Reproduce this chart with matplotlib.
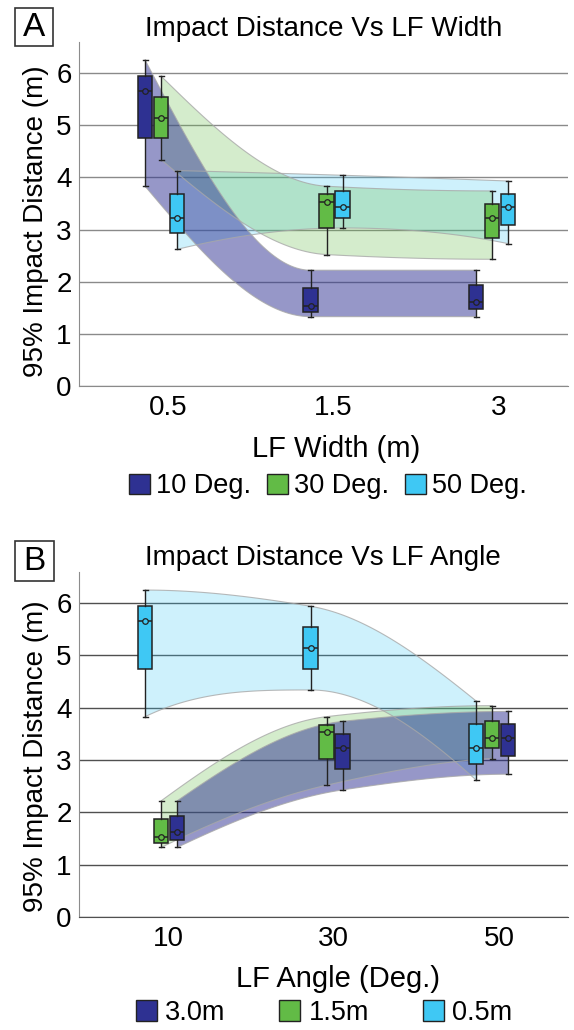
import numpy as np
import matplotlib.pyplot as plt
from matplotlib.patches import Patch, Rectangle

plt.rcParams['font.family'] = ['Liberation Sans', 'DejaVu Sans']

# ------------------------------------------------------------
# data: 95% impact distance (m), rows = LF width, cols = LF angle
# ------------------------------------------------------------
width_labels = ['0.5', '1.5', '3']
angle_labels = ['10', '30', '50']
width_series = ['0.5m', '1.5m', '3.0m']
angle_series = ['10 Deg.', '30 Deg.', '50 Deg.']

whis_hi = np.array([[6.25, 5.94, 4.13],
                    [2.22, 3.83, 4.04],
                    [2.22, 3.74, 3.93]])
box_hi = np.array([[5.94, 5.54, 3.69],
                   [1.87, 3.68, 3.74],
                   [1.93, 3.49, 3.69]])
median = np.array([[5.65, 5.14, 3.23],
                   [1.53, 3.53, 3.43],
                   [1.62, 3.23, 3.43]])
box_lo = np.array([[4.75, 4.75, 2.93],
                   [1.42, 3.03, 3.23],
                   [1.47, 2.83, 3.08]])
whis_lo = np.array([[3.83, 4.34, 2.62],
                    [1.33, 2.52, 3.03],
                    [1.33, 2.43, 2.73]])

DARK = '#2E3192'
GREEN = '#62BB46'
CYAN = '#3FC8F4'
EDGE = '#222222'

OFFSET = 0.0967      # spacing between boxes of one group
SHIFT = -0.042       # groups sit a little left of the tick
BW = 0.088


def smooth(xs, ys, n=60):
    # monotone cubic (pchip-style) through the points
    xs = np.asarray(xs, float)
    ys = np.asarray(ys, float)
    h = np.diff(xs)
    d = np.diff(ys) / h
    m = np.zeros_like(ys)
    for k in range(1, len(ys) - 1):
        if d[k - 1] * d[k] > 0:
            w1 = 2 * h[k] + h[k - 1]
            w2 = h[k] + 2 * h[k - 1]
            m[k] = (w1 + w2) / (w1 / d[k - 1] + w2 / d[k])

    def end(h0, h1, d0, d1):
        e = ((2 * h0 + h1) * d0 - h0 * d1) / (h0 + h1)
        if np.sign(e) != np.sign(d0):
            e = 0.0
        elif np.sign(d0) != np.sign(d1) and abs(e) > 3 * abs(d0):
            e = 3 * d0
        return e

    m[0] = end(h[0], h[1], d[0], d[1])
    m[-1] = end(h[-1], h[-2], d[-1], d[-2])

    t = np.linspace(0, 1, n)
    px, py = [], []
    for k in range(len(h)):
        h00 = 2 * t ** 3 - 3 * t ** 2 + 1
        h10 = t ** 3 - 2 * t ** 2 + t
        h01 = -2 * t ** 3 + 3 * t ** 2
        h11 = t ** 3 - t ** 2
        px.append(xs[k] + t * h[k])
        py.append(h00 * ys[k] + h10 * h[k] * m[k] + h01 * ys[k + 1] + h11 * h[k] * m[k + 1])
    return np.column_stack([np.concatenate(px), np.concatenate(py)])


def draw_panel(ax, series, grid_color):
    # series: list of (color, alpha, offset, stats getter over groups)
    for color, alpha, off, get in series:
        xs = np.arange(3) + off + SHIFT
        hi = np.array([get(g)['whishi'] for g in range(3)])
        lo = np.array([get(g)['whislo'] for g in range(3)])
        top = smooth(xs, hi)
        bot = smooth(xs, lo)[::-1]
        poly = np.vstack([top, bot])
        ax.fill(poly[:, 0], poly[:, 1], facecolor=color, alpha=alpha,
                edgecolor='none', zorder=1)
        ax.plot(top[:, 0], top[:, 1], color='#a8a8a8', lw=0.8, alpha=0.8, zorder=1.1)
        ax.plot(bot[:, 0], bot[:, 1], color='#a8a8a8', lw=0.8, alpha=0.8, zorder=1.1)

    for color, alpha, off, get in series:
        for g in range(3):
            ax.bxp([get(g)], positions=[g + off + SHIFT], widths=BW,
                   patch_artist=True, showmeans=True, showfliers=False,
                   capwidths=0.03, manage_ticks=False,
                   boxprops=dict(facecolor=color, edgecolor=EDGE, linewidth=1.1),
                   medianprops=dict(color=EDGE, linewidth=1.1),
                   whiskerprops=dict(color=EDGE, linewidth=1.0),
                   capprops=dict(color=EDGE, linewidth=1.0),
                   meanprops=dict(marker='o', markersize=4, markerfacecolor=color,
                                  markeredgecolor=EDGE, markeredgewidth=0.9),
                   zorder=3)

    ax.set_xlim(-0.541, 2.417)
    ax.set_ylim(0, 6.6)
    ax.set_yticks(range(7))
    ax.set_axisbelow(True)
    ax.yaxis.grid(True, color=grid_color, lw=1.0)
    for s in ['top', 'right']:
        ax.spines[s].set_visible(False)
    ax.spines['left'].set_color('#8c8c8c')
    ax.spines['bottom'].set_color(grid_color)
    ax.tick_params(axis='both', length=0, labelsize=20)
    ax.tick_params(axis='x', pad=6.5)
    ax.tick_params(axis='y', pad=5)


def stats(i, j):
    return dict(whislo=whis_lo[i, j], q1=box_lo[i, j], med=median[i, j],
                q3=box_hi[i, j], whishi=whis_hi[i, j], mean=median[i, j])


fig = plt.figure(figsize=(5.74, 10.30), dpi=100)

# ------------------------------------------------------------
# A: grouped by LF width, one series per angle
# ------------------------------------------------------------
axA = fig.add_axes([0.1368, 0.6252, 0.8528, 0.3343])
angle_colors = [DARK, GREEN, CYAN]
angle_alpha = [0.5, 0.27, 0.25]
seriesA = []
for j in [2, 1, 0]:
    seriesA.append((angle_colors[j], angle_alpha[j], (j - 1) * OFFSET,
                    lambda g, j=j: stats(g, j)))
draw_panel(axA, seriesA, '#8a8a8a')
axA.set_xticks(range(3), width_labels)
axA.set_title('Impact Distance Vs LF Width', fontsize=20, pad=1)
axA.set_xlabel('LF Width (m)', fontsize=21)
axA.xaxis.set_label_coords(0.527, -0.142)
axA.set_ylabel('95% Impact Distance (m)', fontsize=20)
axA.yaxis.set_label_coords(-0.060, 0.479)

fig.legend(handles=[Patch(facecolor=c, edgecolor=EDGE, lw=1, label=l)
                    for c, l in zip(angle_colors, angle_series)],
           loc='center', bbox_to_anchor=(0.571, 0.528), ncol=3, frameon=False,
           fontsize=19.5, handlelength=0.78, handleheight=0.78,
           handletextpad=0.2, columnspacing=0.6, borderpad=0)

# ------------------------------------------------------------
# B: grouped by LF angle, one series per width
# ------------------------------------------------------------
axB = fig.add_axes([0.1368, 0.1097, 0.8528, 0.3352])
width_colors = [CYAN, GREEN, DARK]
width_alpha = [0.25, 0.27, 0.5]
seriesB = []
for i in [0, 1, 2]:
    seriesB.append((width_colors[i], width_alpha[i], (i - 1) * OFFSET,
                    lambda g, i=i: stats(i, g)))
draw_panel(axB, seriesB, '#505050')
axB.set_xticks(range(3), angle_labels)
axB.set_title('Impact Distance Vs LF Angle', fontsize=20, pad=4.8)
axB.set_xlabel('LF Angle (Deg.)', fontsize=21)
axB.xaxis.set_label_coords(0.530, -0.139)
axB.set_ylabel('95% Impact Distance (m)', fontsize=20)
axB.yaxis.set_label_coords(-0.060, 0.466)

fig.legend(handles=[Patch(facecolor=width_colors[i], edgecolor=EDGE, lw=1,
                          label=width_series[i]) for i in [2, 1, 0]],
           loc='center', bbox_to_anchor=(0.5645, 0.0165), ncol=3, frameon=False,
           fontsize=19.5, handlelength=0.78, handleheight=0.78,
           handletextpad=0.3, columnspacing=2.0, borderpad=0)

# panel letters
for letter, (x0, y0, w, h) in [('A', (0.0261, 0.9553, 0.0662, 0.0369)),
                               ('B', (0.0261, 0.4359, 0.0680, 0.0388))]:
    fig.patches.append(Rectangle((x0, y0), w, h, transform=fig.transFigure,
                                 facecolor='white', edgecolor='#333333', lw=1.2))
    fig.text(x0 + w / 2, y0 + h / 2, letter, ha='center', va='center', fontsize=24)

fig.savefig('out.png', dpi=100)
